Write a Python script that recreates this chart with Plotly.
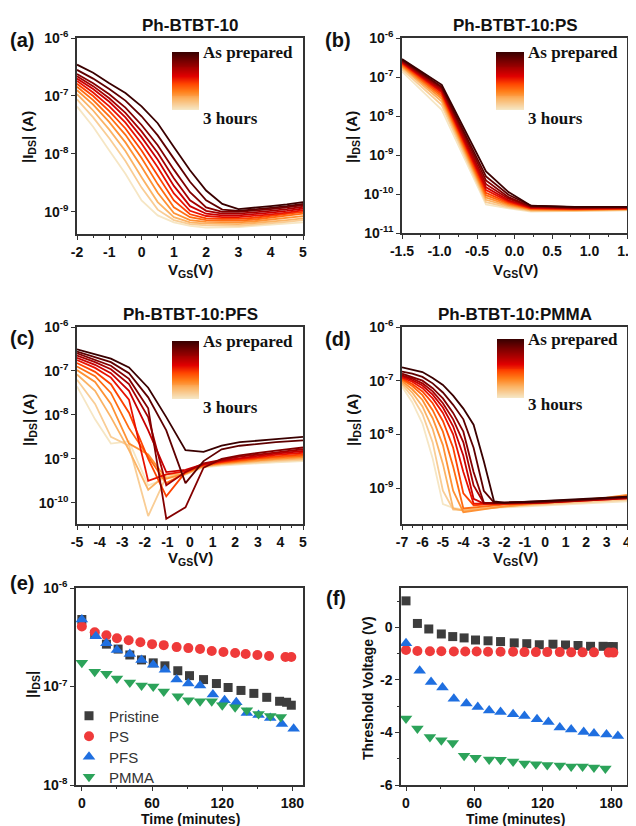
import numpy as np
import plotly.graph_objects as go
from plotly.colors import sample_colorscale

# ---------------- data ----------------
# (a) Ph-BTBT-10 transfer curves, log10(|I_DS|) ; curve 0 = as prepared ... curve 11 = 3 hours
X_A = [-2, -1.5, -1, -0.5, 0, 0.5, 1, 1.5, 2, 2.5, 3, 3.5, 4, 4.5, 5]
LOGI_A = [
    [-6.46, -6.60, -6.78, -6.95, -7.18, -7.47, -7.88, -8.28, -8.63, -8.86, -8.95, -8.93, -8.90, -8.87, -8.83],
    [-6.55, -6.70, -6.88, -7.08, -7.35, -7.68, -8.08, -8.48, -8.80, -8.96, -8.98, -8.96, -8.93, -8.90, -8.86],
    [-6.62, -6.78, -6.97, -7.20, -7.50, -7.85, -8.27, -8.66, -8.92, -9.00, -9.00, -8.98, -8.95, -8.92, -8.88],
    [-6.66, -6.83, -7.04, -7.29, -7.61, -7.98, -8.42, -8.80, -8.98, -9.03, -9.03, -9.01, -8.98, -8.95, -8.91],
    [-6.70, -6.88, -7.10, -7.37, -7.71, -8.10, -8.55, -8.90, -9.03, -9.06, -9.06, -9.04, -9.01, -8.98, -8.94],
    [-6.74, -6.94, -7.18, -7.46, -7.82, -8.23, -8.68, -8.98, -9.07, -9.09, -9.09, -9.07, -9.04, -9.01, -8.97],
    [-6.79, -7.00, -7.26, -7.56, -7.94, -8.37, -8.80, -9.04, -9.11, -9.12, -9.12, -9.10, -9.07, -9.04, -9.00],
    [-6.84, -7.07, -7.35, -7.67, -8.07, -8.52, -8.92, -9.09, -9.14, -9.15, -9.15, -9.13, -9.10, -9.07, -9.03],
    [-6.90, -7.15, -7.45, -7.80, -8.22, -8.67, -9.02, -9.14, -9.17, -9.18, -9.18, -9.16, -9.13, -9.10, -9.07],
    [-6.97, -7.25, -7.58, -7.95, -8.40, -8.83, -9.09, -9.18, -9.20, -9.21, -9.21, -9.19, -9.17, -9.14, -9.11],
    [-7.06, -7.37, -7.73, -8.12, -8.58, -8.96, -9.14, -9.21, -9.23, -9.24, -9.24, -9.22, -9.20, -9.17, -9.14],
    [-7.18, -7.53, -7.94, -8.34, -8.80, -9.06, -9.18, -9.24, -9.27, -9.27, -9.26, -9.24, -9.22, -9.20, -9.18],
]

# (b) Ph-BTBT-10:PS
X_B = [-1.5, -0.97, -0.38, -0.08, 0.22, 0.8, 1.5]
LOGI_B = [
    [-6.54, -7.20, -9.42, -9.95, -10.30, -10.33, -10.33],
    [-6.56, -7.25, -9.55, -10.02, -10.30, -10.34, -10.33],
    [-6.58, -7.28, -9.65, -10.08, -10.32, -10.35, -10.34],
    [-6.60, -7.32, -9.75, -10.12, -10.33, -10.36, -10.35],
    [-6.62, -7.36, -9.83, -10.16, -10.34, -10.37, -10.36],
    [-6.64, -7.40, -9.90, -10.19, -10.36, -10.38, -10.37],
    [-6.66, -7.45, -9.97, -10.22, -10.37, -10.39, -10.38],
    [-6.69, -7.50, -10.03, -10.25, -10.39, -10.40, -10.38],
    [-6.72, -7.56, -10.09, -10.28, -10.40, -10.41, -10.39],
    [-6.75, -7.63, -10.15, -10.31, -10.42, -10.42, -10.40],
    [-6.80, -7.72, -10.21, -10.34, -10.43, -10.43, -10.41],
    [-6.86, -7.84, -10.27, -10.37, -10.45, -10.44, -10.42],
]

# (c) Ph-BTBT-10:PFS
X_C = [-5, -4.2, -3.5, -2.7, -1.85, -1.05, -0.2, 0.6, 1.4, 2.2, 3.0, 3.8, 5.0]
LOGI_C = [
    [-6.51, -6.62, -6.72, -6.92, -7.38, -8.05, -8.80, -8.84, -8.70, -8.62, -8.58, -8.55, -8.50],
    [-6.56, -6.68, -6.80, -7.05, -7.60, -8.35, -9.55, -9.05, -8.78, -8.70, -8.66, -8.62, -8.58],
    [-6.60, -6.74, -6.88, -7.18, -7.85, -10.36, -10.10, -9.20, -9.00, -8.92, -8.86, -8.81, -8.74],
    [-6.65, -6.80, -6.96, -7.30, -8.05, -9.60, -9.30, -9.10, -9.02, -8.95, -8.90, -8.85, -8.78],
    [-6.70, -6.86, -7.05, -7.45, -8.35, -9.30, -9.25, -9.12, -9.04, -8.98, -8.93, -8.88, -8.82],
    [-6.75, -6.93, -7.15, -7.65, -9.50, -9.35, -9.28, -9.13, -9.06, -9.00, -8.96, -8.91, -8.86],
    [-6.82, -7.02, -7.30, -7.95, -9.00, -9.85, -9.30, -9.14, -9.07, -9.02, -8.98, -8.94, -8.90],
    [-6.90, -7.12, -7.50, -8.30, -8.95, -9.55, -9.32, -9.15, -9.09, -9.04, -9.00, -8.97, -8.93],
    [-6.98, -7.25, -7.75, -8.65, -8.90, -9.45, -9.33, -9.16, -9.10, -9.06, -9.03, -9.00, -8.96],
    [-7.08, -7.45, -8.05, -8.80, -9.70, -9.35, -9.34, -9.17, -9.12, -9.08, -9.05, -9.02, -8.99],
    [-7.20, -7.75, -8.50, -8.70, -10.30, -9.40, -9.35, -9.18, -9.13, -9.10, -9.07, -9.05, -9.02],
    [-7.35, -8.10, -8.65, -8.60, -9.60, -9.45, -9.36, -9.19, -9.15, -9.12, -9.10, -9.08, -9.05],
]

# (d) Ph-BTBT-10:PMMA
X_D = [-7, -6.5, -6, -5.5, -5, -4.5, -4, -3.5, -3, -2.5, -2, -1, 0, 1, 2, 3, 4]
LOGI_D = [
    [-6.75, -6.79, -6.84, -6.95, -7.08, -7.28, -7.52, -7.82, -8.50, -9.25, -9.27, -9.26, -9.24, -9.22, -9.20, -9.18, -9.16],
    [-6.83, -6.87, -6.93, -7.05, -7.22, -7.45, -7.72, -8.25, -9.05, -9.27, -9.27, -9.26, -9.25, -9.23, -9.21, -9.19, -9.17],
    [-6.87, -6.93, -7.00, -7.14, -7.33, -7.60, -7.95, -8.70, -9.27, -9.28, -9.28, -9.27, -9.26, -9.24, -9.22, -9.20, -9.18],
    [-6.90, -6.96, -7.05, -7.20, -7.42, -7.72, -8.15, -8.95, -9.28, -9.28, -9.28, -9.27, -9.26, -9.24, -9.22, -9.20, -9.18],
    [-6.92, -6.99, -7.09, -7.26, -7.50, -7.85, -8.40, -9.20, -9.29, -9.29, -9.29, -9.28, -9.27, -9.25, -9.23, -9.21, -9.19],
    [-6.94, -7.02, -7.14, -7.33, -7.60, -8.00, -8.70, -9.29, -9.29, -9.29, -9.29, -9.28, -9.27, -9.25, -9.23, -9.21, -9.19],
    [-6.96, -7.06, -7.20, -7.42, -7.75, -8.25, -9.10, -9.32, -9.31, -9.30, -9.30, -9.29, -9.27, -9.25, -9.23, -9.21, -9.18],
    [-6.98, -7.10, -7.27, -7.55, -7.95, -8.60, -9.38, -9.36, -9.34, -9.32, -9.31, -9.29, -9.27, -9.25, -9.22, -9.19, -9.15],
    [-7.01, -7.16, -7.36, -7.70, -8.20, -9.05, -9.45, -9.42, -9.39, -9.36, -9.34, -9.31, -9.28, -9.25, -9.22, -9.18, -9.13],
    [-7.04, -7.22, -7.48, -7.90, -8.55, -9.38, -9.42, -9.40, -9.38, -9.36, -9.34, -9.31, -9.29, -9.26, -9.24, -9.21, -9.18],
    [-7.07, -7.30, -7.62, -8.15, -9.05, -9.40, -9.41, -9.39, -9.38, -9.36, -9.35, -9.33, -9.31, -9.29, -9.27, -9.25, -9.22],
    [-7.11, -7.40, -7.80, -8.45, -9.30, -9.37, -9.40, -9.39, -9.38, -9.37, -9.36, -9.35, -9.33, -9.31, -9.29, -9.27, -9.25],
]

# (e) |I_DS| vs time, log10 values
T_E_PRISTINE = [0, 11, 21, 31, 41, 51, 61, 71, 82, 92, 104, 115, 125, 136, 147, 158, 169, 175, 179]
LOGI_E_PRISTINE = [-6.32, -6.47, -6.57, -6.62, -6.68, -6.73, -6.76, -6.79, -6.84, -6.89, -6.93, -6.97, -7.01,
                   -7.04, -7.07, -7.11, -7.15, -7.16, -7.19]
T_E_PS = [0, 11, 21, 30, 40, 50, 60, 70, 81, 91, 101, 111, 121, 131, 140, 150, 160, 174, 179]
LOGI_E_PS = [-6.39, -6.45, -6.48, -6.51, -6.53, -6.55, -6.57, -6.58, -6.60, -6.61, -6.62, -6.64, -6.65,
             -6.66, -6.67, -6.68, -6.69, -6.70, -6.70]
T_E_PFS = [0, 12, 21, 30, 41, 51, 61, 71, 81, 91, 101, 112, 122, 132, 141, 151, 161, 171, 181]
LOGI_E_PFS = [-6.32, -6.49, -6.56, -6.63, -6.67, -6.73, -6.78, -6.83, -6.93, -6.97, -6.99, -7.08, -7.14,
              -7.16, -7.27, -7.29, -7.32, -7.38, -7.43]
T_E_PMMA = [0, 11, 21, 30, 41, 51, 61, 70, 82, 91, 101, 111, 120, 131, 141, 151, 161, 170]
LOGI_E_PMMA = [-6.76, -6.85, -6.87, -6.92, -6.96, -6.99, -7.00, -7.05, -7.10, -7.14, -7.15, -7.15, -7.19,
               -7.21, -7.24, -7.28, -7.30, -7.31]

# (f) threshold voltage vs time
T_F_PRISTINE = [0, 10, 20, 31, 41, 51, 61, 72, 83, 95, 106, 117, 129, 140, 151, 162, 173, 178, 182]
VT_F_PRISTINE = [1.01, 0.15, -0.06, -0.25, -0.35, -0.40, -0.48, -0.51, -0.54, -0.59, -0.62, -0.66, -0.64,
                 -0.67, -0.69, -0.72, -0.72, -0.73, -0.73]
T_F_PS = [0, 10, 21, 31, 42, 52, 62, 72, 83, 94, 104, 114, 124, 135, 145, 155, 165, 178, 182]
VT_F_PS = [-0.86, -0.90, -0.91, -0.91, -0.92, -0.92, -0.92, -0.93, -0.93, -0.93, -0.94, -0.94, -0.94,
           -0.94, -0.95, -0.95, -0.95, -0.96, -0.96]
T_F_PFS = [0, 12, 22, 32, 42, 53, 63, 73, 83, 94, 104, 115, 125, 135, 145, 156, 165, 176, 186]
VT_F_PFS = [-0.60, -1.65, -2.08, -2.29, -2.72, -2.90, -3.03, -3.16, -3.22, -3.31, -3.37, -3.50, -3.60,
            -3.81, -3.89, -3.98, -4.04, -4.08, -4.13]
T_F_PMMA = [0, 10, 21, 31, 41, 51, 61, 73, 83, 94, 104, 114, 124, 135, 145, 155, 165, 175]
VT_F_PMMA = [-3.47, -3.85, -4.17, -4.30, -4.40, -4.89, -4.96, -5.03, -5.04, -5.11, -5.18, -5.21, -5.24,
             -5.26, -5.30, -5.30, -5.33, -5.37]

SERIES_NAMES = ["Pristine", "PS", "PFS", "PMMA"]
PANEL_TITLES = ["Ph-BTBT-10", "Ph-BTBT-10:PS", "Ph-BTBT-10:PFS", "Ph-BTBT-10:PMMA"]
PANEL_LABELS = ["(a)", "(b)", "(c)", "(d)", "(e)", "(f)"]

# tick values
XT_A = [-2, -1, 0, 1, 2, 3, 4, 5]
XT_B = [-1.5, -1.0, -0.5, 0.0, 0.5, 1.0, 1.5]
XT_C = [-5, -4, -3, -2, -1, 0, 1, 2, 3, 4, 5]
XT_D = [-7, -6, -5, -4, -3, -2, -1, 0, 1, 2, 3, 4]
XT_T = [0, 60, 120, 180]
YT_F = [-6, -4, -2, 0]
DECADES = [-11, -10, -9, -8, -7, -6]

# ---------------- styling ----------------
OFF = 8                      # default page margin around the plot div
W, H = 636 - OFF, 826 - OFF
def px(x): return (x - OFF) / W
def py(y): return 1 - (y - OFF) / H

COLORSCALE = [[0.0, '#3a0000'], [0.15, '#780000'], [0.3, '#b00000'], [0.42, '#e00000'],
              [0.55, '#ff4500'], [0.68, '#ff7f1a'], [0.82, '#fbb466'], [1.0, '#f6e6c4']]
SANS = "Liberation Sans"
SERIF = "Liberation Serif"
AX = '#333333'

def lab(v, fmt='{:g}'):
    return fmt.format(v).replace('\u2212', '-')

fig = go.Figure()

def add_curves(xs, curves, ax):
    n = len(curves)
    cols = sample_colorscale(COLORSCALE, [k / (n - 1) for k in range(n)])
    for k in range(n - 1, -1, -1):
        fig.add_trace(go.Scatter(x=xs, y=[10 ** v for v in curves[k]], mode='lines',
                                 line=dict(color=cols[k], width=1.8), showlegend=False,
                                 xaxis='x' + ax, yaxis='y' + ax, hoverinfo='skip'))

add_curves(X_A, LOGI_A, '')
add_curves(X_B, LOGI_B, '2')
add_curves(X_C, LOGI_C, '3')
add_curves(X_D, LOGI_D, '4')

MK = dict(Pristine=('square', '#3d3d3d', 9), PS=('circle', '#ef3a3a', 10),
          PFS=('triangle-up', '#1f6fe0', 11), PMMA=('triangle-down', '#2ca35a', 11))
LEGEND_IDS = ['legend', 'legend2', 'legend3', 'legend4']

for name, lid, t, v in zip(SERIES_NAMES, LEGEND_IDS, [T_E_PRISTINE, T_E_PS, T_E_PFS, T_E_PMMA],
                           [LOGI_E_PRISTINE, LOGI_E_PS, LOGI_E_PFS, LOGI_E_PMMA]):
    s, c, sz = MK[name]
    fig.add_trace(go.Scatter(x=t, y=[10 ** q for q in v], mode='markers', name=name, legend=lid,
                             marker=dict(symbol=s, color=c, size=sz, line=dict(width=0)),
                             xaxis='x5', yaxis='y5'))
for name, t, v in zip(SERIES_NAMES, [T_F_PRISTINE, T_F_PS, T_F_PFS, T_F_PMMA],
                      [VT_F_PRISTINE, VT_F_PS, VT_F_PFS, VT_F_PMMA]):
    s, c, sz = MK[name]
    fig.add_trace(go.Scatter(x=t, y=v, mode='markers', name=name, showlegend=False,
                             marker=dict(symbol=s, color=c, size=sz, line=dict(width=0)),
                             xaxis='x6', yaxis='y6'))

# gradient legends
NG = 60
for i in range(7, 11):
    fig.add_trace(go.Heatmap(z=[[1 - j / (NG - 1)] for j in range(NG)], colorscale=COLORSCALE,
                             zmin=0, zmax=1, showscale=False, hoverinfo='skip',
                             xaxis='x%d' % i, yaxis='y%d' % i))

tickfont = dict(family=SANS, size=14, color='#111', weight='bold')
COMMON = dict(showline=True, mirror=True, linecolor=AX, linewidth=1.5, ticks='outside', ticklen=4,
              tickwidth=1.2, tickcolor=AX, showgrid=False, zeroline=False, tickfont=tickfont,
              automargin=False, ticklabeloverflow='allow')

def xaxis(dom, rng, ticks, minor, anchor, fmt='{:g}'):
    return dict(domain=[px(dom[0]), px(dom[1])], range=rng, anchor=anchor,
                tickmode='array', tickvals=ticks, ticktext=[lab(v, fmt) for v in ticks],
                minor=dict(dtick=minor, tick0=0, ticks='outside', ticklen=2.5, tickcolor=AX,
                           showgrid=False), **COMMON)

def yaxis_log(dom, rng, anchor):
    dec = [d for d in DECADES if rng[0] - 1e-6 <= d <= rng[1] + 1e-6]
    return dict(domain=[py(dom[1]), py(dom[0])], type='log', range=rng, anchor=anchor,
                tickmode='array', tickvals=[10.0 ** d for d in dec],
                ticktext=['10<sup>%d</sup>' % d for d in dec], **COMMON)

lay = {}
lay['xaxis'] = xaxis((77, 303), [-2, 5], XT_A, 0.5, 'y')
lay['yaxis'] = yaxis_log((38, 234), [-9.38, -6], 'x')
lay['xaxis2'] = xaxis((402, 627), [-1.5, 1.5], XT_B, 0.25, 'y2', fmt='{:.1f}')
lay['yaxis2'] = yaxis_log((38, 233), [-11, -6], 'x2')
lay['xaxis3'] = xaxis((77, 303), [-5, 5], XT_C, 0.5, 'y3')
lay['yaxis3'] = yaxis_log((327, 524), [-10.48, -6], 'x3')
lay['xaxis4'] = xaxis((402, 627), [-7, 4], XT_D, 0.5, 'y4')
lay['yaxis4'] = yaxis_log((327, 524), [-9.67, -6], 'x4')
lay['xaxis5'] = xaxis((76, 303), [-5, 189], XT_T, 30, 'y5')
lay['yaxis5'] = yaxis_log((588, 785), [-8, -6], 'x5')
lay['xaxis6'] = xaxis((401, 627), [-4.4, 194], XT_T, 30, 'y6')
lay['yaxis6'] = dict(domain=[py(785), py(588)], range=[-6, 1.5], anchor='x6',
                     tickmode='array', tickvals=YT_F, ticktext=[lab(v) for v in YT_F],
                     minor=dict(dtick=1, tick0=0, ticks='outside', ticklen=2.5, tickcolor=AX), **COMMON)

GRAD_BOXES = [(172, 199, 52, 110), (496, 524, 52, 110), (172, 199, 341, 399), (497, 524, 339, 398)]
for i, (x0, x1, y0, y1) in zip(range(7, 11), GRAD_BOXES):
    lay['xaxis%d' % i] = dict(domain=[px(x0), px(x1)], anchor='y%d' % i, visible=False, automargin=False)
    lay['yaxis%d' % i] = dict(domain=[py(y1), py(y0)], anchor='x%d' % i, visible=False, automargin=False)

# one legend per series so the rows sit exactly as in the reference
for lid, yrow in zip(LEGEND_IDS, [716, 736.5, 757, 777]):
    lay[lid] = dict(x=px(69), y=py(yrow), xanchor='left', yanchor='middle', bgcolor='rgba(0,0,0,0)',
                    font=dict(family=SANS, size=15, color='#333'), itemwidth=30, borderwidth=0)

fig.update_layout(template='none')
fig.update_layout(**lay)

ann = []
def A(text, x, y, size, weight='bold', family=SANS, xanchor='center', yanchor='middle', angle=0,
      color='#111'):
    ann.append(dict(text=text, x=px(x), y=py(y), xref='paper', yref='paper', showarrow=False,
                    xanchor=xanchor, yanchor=yanchor, textangle=angle,
                    font=dict(family=family, size=size, weight=weight, color=color)))

# panel labels
for labl, (x, y) in zip(PANEL_LABELS, [(22, 40), (338, 40), (22, 338), (338, 339), (22, 583), (336, 598)]):
    A(labl, x, y, 20)
# titles
for t, (x, y) in zip(PANEL_TITLES, [(190, 25), (515, 25), (190, 315), (515, 315)]):
    A(t, x, y, 17)
# axis titles
IDS = "|I<sub>DS</sub>| (A)"
VGS = "V<sub>GS</sub>(V)"
for (x, y) in [(29, 137), (353, 137), (29, 420), (353, 420)]:
    A(IDS, x, y, 15, angle=-90)
for (x, y) in [(190, 270), (515, 270), (190, 558), (515, 558)]:
    A(VGS, x, y, 15)
A("|I<sub>DS</sub>|", 32, 685, 15, angle=-90)
A("Threshold Voltage (V)", 368, 688, 14, angle=-90)
A("Time (minutes)", 190, 819, 14)
A("Time (minutes)", 515, 819, 14)
# gradient legend texts
for (x0, x1, y0, y1), y3 in zip(GRAD_BOXES, [118, 118, 407, 404]):
    A("As prepared", x1 + 2, y0, 17, family=SERIF, xanchor='left')
    A("3 hours", x1 + 2, y3, 17, family=SERIF, xanchor='left')

fig.update_layout(
    annotations=ann, width=W, height=H, margin=dict(l=0, r=0, t=0, b=0, autoexpand=False),
    paper_bgcolor='white', plot_bgcolor='white', showlegend=True,
)

fig.write_html("out.html")
